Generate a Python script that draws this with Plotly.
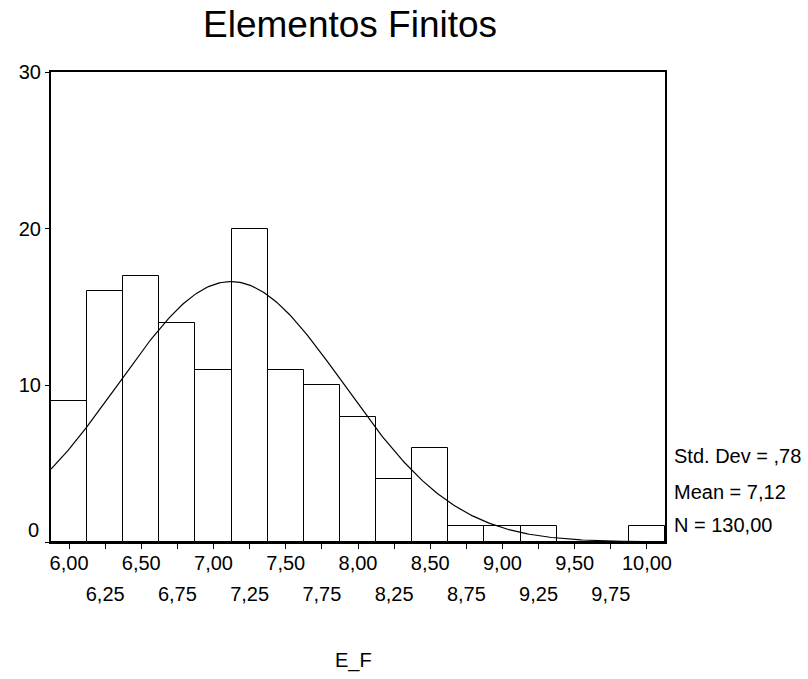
import numpy as np
import plotly.graph_objects as go

# ---- data ----
bin_centers = [6.00, 6.25, 6.50, 6.75, 7.00, 7.25, 7.50, 7.75, 8.00,
               8.25, 8.50, 8.75, 9.00, 9.25, 9.50, 9.75, 10.00]
counts = [9, 16, 17, 14, 11, 20, 11, 10, 8, 4, 6, 1, 1, 1, 0, 0, 1]
tick_labels_row1 = ["6,00", "6,50", "7,00", "7,50", "8,00", "8,50", "9,00", "9,50", "10,00"]
tick_labels_row2 = ["6,25", "6,75", "7,25", "7,75", "8,25", "8,75", "9,25", "9,75"]
y_ticks = [0, 10, 20, 30]
mean_val = 7.12
std_val = 0.78
n_val = 130
bin_width = 0.25
stats_text = ["Std. Dev = ,78", "Mean = 7,12", "N = 130,00"]
title_text = "Elementos Finitos"
x_title = "E_F"

FONT = "Liberation Sans, Arial, sans-serif"

x_lo = bin_centers[0] - bin_width / 2
x_hi = bin_centers[-1] + bin_width / 2

# fitted normal curve (scaled to counts)
xc = np.linspace(x_lo, x_hi, 300)
yc = n_val * bin_width / (std_val * np.sqrt(2 * np.pi)) * np.exp(-0.5 * ((xc - mean_val) / std_val) ** 2)

fig = go.Figure()
fig.add_trace(go.Bar(
    x=bin_centers, y=counts, width=bin_width,
    marker=dict(color="white", line=dict(color="black", width=1)),
    showlegend=False, hoverinfo="skip",
))
fig.add_trace(go.Scatter(
    x=xc, y=yc, mode="lines", line=dict(color="black", width=1.2),
    showlegend=False, hoverinfo="skip",
))
# invisible trace for the second tick-label row axis
fig.add_trace(go.Scatter(x=[bin_centers[0]], y=[0], xaxis="x2", mode="markers",
                         marker=dict(opacity=0), showlegend=False, hoverinfo="skip"))

row2_vals = bin_centers[1::2]

fig.update_layout(
    width=808, height=679,
    margin=dict(l=51, r=143, t=72, b=137),
    paper_bgcolor="white", plot_bgcolor="white",
    font=dict(family=FONT, size=20, color="black"),
    bargap=0,
    xaxis=dict(
        range=[x_lo, x_hi], showgrid=False, zeroline=False,
        showline=True, linecolor="black", linewidth=2, mirror=True,
        ticks="outside", ticklen=5, tickwidth=1, tickcolor="black",
        tickvals=bin_centers,
        ticktext=[tick_labels_row1[i // 2] if i % 2 == 0 else "" for i in range(len(bin_centers))],
        tickfont=dict(size=20), ticklabelstandoff=-3,
    ),
    xaxis2=dict(
        overlaying="x", anchor="y", side="bottom",
        range=[x_lo, x_hi], showgrid=False, zeroline=False, showline=False,
        ticks="", tickvals=row2_vals, ticktext=tick_labels_row2,
        ticklabelstandoff=38, tickfont=dict(size=20),
    ),
    yaxis=dict(
        range=[0, 30], showgrid=False, zeroline=False,
        showline=True, linecolor="black", linewidth=2, mirror=True,
        ticks="outside", ticklen=4, tickwidth=1, tickcolor="black",
        tickvals=y_ticks, ticktext=["" if v == 0 else str(v) for v in y_ticks],
        tickfont=dict(size=20),
    ),
)

ann = []
ann.append(dict(text=str(y_ticks[0]), xref="paper", yref="y", x=0, y=0,
                xanchor="right", yanchor="middle", xshift=-10, yshift=12,
                showarrow=False, font=dict(size=20)))
ann.append(dict(text=title_text, xref="paper", yref="paper", x=(349.5 - 51) / 614,
                y=(542 - 25) / 470, xanchor="center", yanchor="middle",
                showarrow=False, font=dict(size=37)))
ann.append(dict(text=x_title, xref="paper", yref="paper", x=(353 - 51) / 614,
                y=(542 - 660) / 470, xanchor="center", yanchor="middle",
                showarrow=False, font=dict(size=20)))
for txt, ypix in zip(stats_text, [456, 491.5, 525]):
    ann.append(dict(text=txt, xref="paper", yref="paper", x=(672 - 51) / 614,
                    y=(542 - ypix) / 470, xanchor="left", yanchor="middle",
                    showarrow=False, font=dict(size=20)))
fig.update_layout(annotations=ann)

fig.write_html("out.html",
               config={"displayModeBar": False},
               post_script="document.body.style.margin='0';document.body.style.overflow='hidden';")
